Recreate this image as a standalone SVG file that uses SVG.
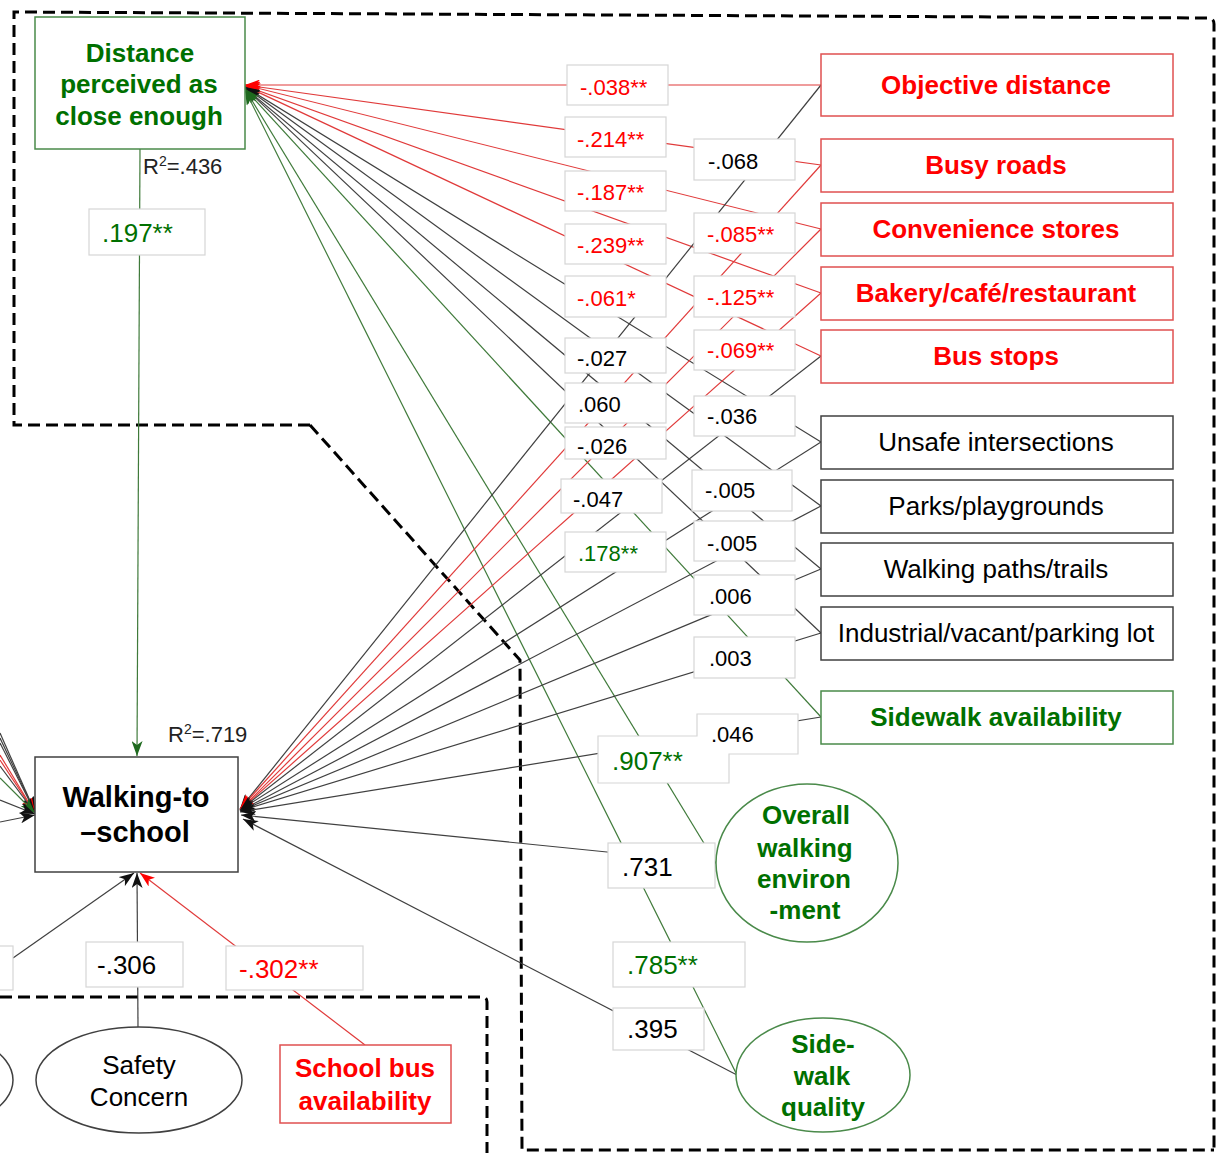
<svg xmlns="http://www.w3.org/2000/svg" width="1224" height="1153" viewBox="0 0 1224 1153">
<defs>
<style>
text{font-family:"Liberation Sans",Arial,sans-serif}
.lbl rect,.lbl path{fill:#fff;stroke:#d6d6d6;stroke-width:1.2}
.lbl text{font-size:22px}
.lbl text.big{font-size:26px}
.nr{fill:#fff;stroke:#e05050;stroke-width:1.5}
.nk{fill:#fff;stroke:#404040;stroke-width:1.5}
.ng{fill:#fff;stroke:#4a8a4a;stroke-width:1.5}
.tr{fill:#ff0000;font-weight:bold;font-size:26px;text-anchor:middle}
.tk{fill:#000;font-size:26px;text-anchor:middle}
.tg{fill:#007000;font-weight:bold;font-size:26px;text-anchor:middle}
.cr{fill:#ff0000}
.ck{fill:#000}
.cg{fill:#007000}
.lr{stroke:#e03a3a;stroke-width:1.2;fill:none}
.lk{stroke:#404040;stroke-width:1.2;fill:none}
.lg{stroke:#3f7a3a;stroke-width:1.2;fill:none}
.dash{stroke:#000;stroke-width:3;stroke-dasharray:12 6;fill:none}
.r2{font-size:22px;fill:#222}
</style>
<marker id="aR" viewBox="0 0 15 11" refX="15" refY="5.5" markerWidth="15" markerHeight="11" markerUnits="userSpaceOnUse" orient="auto"><path d="M0,0 L15,5.5 L0,11 L4,5.5 z" fill="#ff0000"/></marker>
<marker id="aK" viewBox="0 0 15 11" refX="15" refY="5.5" markerWidth="15" markerHeight="11" markerUnits="userSpaceOnUse" orient="auto"><path d="M0,0 L15,5.5 L0,11 L4,5.5 z" fill="#111"/></marker>
<marker id="aG" viewBox="0 0 15 11" refX="15" refY="5.5" markerWidth="15" markerHeight="11" markerUnits="userSpaceOnUse" orient="auto"><path d="M0,0 L15,5.5 L0,11 L4,5.5 z" fill="#1f6a1f"/></marker>
</defs>
<rect width="1224" height="1153" fill="#fff"/>

<g id="boundaries">
<path class="dash" d="M310,425 L14,425 L14,12 L1208,18 Q1214,18 1214,24 L1214,1153"/>
<path class="dash" d="M310,425 L520,660 L522,1150 L1214,1150"/>
<path class="dash" d="M0,997 L482,997 Q487,997 487,1002 L487,1153"/>
</g>

<g id="connectors">
<line class="lr" x1="821" y1="85" x2="245" y2="85" marker-end="url(#aR)"/>
<line class="lr" x1="821" y1="165" x2="245" y2="85" marker-end="url(#aR)"/>
<line class="lr" x1="821" y1="229" x2="245" y2="85" marker-end="url(#aR)"/>
<line class="lr" x1="821" y1="293" x2="245" y2="86" marker-end="url(#aR)"/>
<line class="lr" x1="821" y1="356" x2="245" y2="86" marker-end="url(#aR)"/>
<line class="lk" x1="821" y1="442" x2="245" y2="87" marker-end="url(#aK)"/>
<line class="lk" x1="821" y1="506" x2="245" y2="87" marker-end="url(#aK)"/>
<line class="lk" x1="821" y1="569" x2="245" y2="88" marker-end="url(#aK)"/>
<line class="lk" x1="821" y1="633" x2="245" y2="88" marker-end="url(#aK)"/>
<line class="lg" x1="821" y1="717" x2="245" y2="89" marker-end="url(#aG)"/>
<line class="lg" x1="716" y1="863" x2="245" y2="89" marker-end="url(#aG)"/>
<line class="lg" x1="737" y1="1075" x2="245" y2="90" marker-end="url(#aG)"/>
<line class="lk" x1="821" y1="85" x2="240" y2="809" marker-end="url(#aK)"/>
<line class="lr" x1="821" y1="165" x2="240" y2="809" marker-end="url(#aR)"/>
<line class="lr" x1="821" y1="229" x2="240" y2="810" marker-end="url(#aR)"/>
<line class="lr" x1="821" y1="293" x2="240" y2="810" marker-end="url(#aR)"/>
<line class="lk" x1="821" y1="356" x2="240" y2="810" marker-end="url(#aK)"/>
<line class="lk" x1="821" y1="442" x2="240" y2="810" marker-end="url(#aK)"/>
<line class="lk" x1="821" y1="506" x2="240" y2="811" marker-end="url(#aK)"/>
<line class="lk" x1="821" y1="569" x2="240" y2="811" marker-end="url(#aK)"/>
<line class="lk" x1="821" y1="633" x2="240" y2="811" marker-end="url(#aK)"/>
<line class="lk" x1="821" y1="717" x2="240" y2="812" marker-end="url(#aK)"/>
<line class="lk" x1="716" y1="863" x2="241" y2="815" marker-end="url(#aK)"/>
<line class="lk" x1="737" y1="1075" x2="243" y2="819" marker-end="url(#aK)"/>
<line class="lk" x1="0" y1="733" x2="35" y2="812" marker-end="url(#aK)"/>
<line class="lk" x1="0" y1="738" x2="35" y2="812" marker-end="url(#aK)"/>
<line class="lk" x1="0" y1="743" x2="35" y2="812" marker-end="url(#aK)"/>
<line class="lr" x1="0" y1="755" x2="35" y2="813" marker-end="url(#aR)"/>
<line class="lr" x1="0" y1="760" x2="35" y2="813" marker-end="url(#aR)"/>
<line class="lk" x1="0" y1="766" x2="35" y2="813" marker-end="url(#aK)"/>
<line class="lg" x1="0" y1="778" x2="35" y2="813" marker-end="url(#aG)"/>
<line class="lk" x1="0" y1="800" x2="35" y2="814" marker-end="url(#aK)"/>
<line class="lk" x1="0" y1="822" x2="35" y2="815" marker-end="url(#aK)"/>
<line class="lg" x1="140" y1="149" x2="137" y2="756" marker-end="url(#aG)"/>
<line class="lk" x1="13" y1="958" x2="134" y2="873" marker-end="url(#aK)"/>
<line class="lk" x1="138" y1="1027" x2="137" y2="873" marker-end="url(#aK)"/>
<line class="lr" x1="365" y1="1045" x2="140" y2="873" marker-end="url(#aR)"/>
</g>

<g id="labels">
<g class="lbl"><rect x="567" y="65" width="101" height="40"/><text class="cr" x="580" y="95">-.038**</text></g>
<g class="lbl"><rect x="565" y="117" width="101" height="40"/><text class="cr" x="577" y="147">-.214**</text></g>
<g class="lbl"><rect x="565" y="171" width="101" height="40"/><text class="cr" x="577" y="200">-.187**</text></g>
<g class="lbl"><rect x="565" y="224" width="101" height="40"/><text class="cr" x="577" y="253">-.239**</text></g>
<g class="lbl"><rect x="565" y="276" width="101" height="41"/><text class="cr" x="577" y="306">-.061*</text></g>
<g class="lbl"><rect x="565" y="338" width="101" height="35"/><text class="ck" x="577" y="366">-.027</text></g>
<g class="lbl"><rect x="565" y="383" width="101" height="40"/><text class="ck" x="578" y="412">.060</text></g>
<g class="lbl"><rect x="565" y="427" width="101" height="32"/><text class="ck" x="577" y="454">-.026</text></g>
<g class="lbl"><rect x="561" y="479" width="101" height="34"/><text class="ck" x="573" y="507">-.047</text></g>
<g class="lbl"><rect x="565" y="532" width="101" height="40"/><text class="cg" x="578" y="561">.178**</text></g>
<g class="lbl"><rect x="694" y="139" width="101" height="41"/><text class="ck" x="708" y="169">-.068</text></g>
<g class="lbl"><rect x="694" y="213" width="101" height="40"/><text class="cr" x="707" y="242">-.085**</text></g>
<g class="lbl"><rect x="694" y="276" width="101" height="41"/><text class="cr" x="707" y="305">-.125**</text></g>
<g class="lbl"><rect x="694" y="330" width="101" height="40"/><text class="cr" x="707" y="358">-.069**</text></g>
<g class="lbl"><rect x="694" y="396" width="101" height="40"/><text class="ck" x="707" y="424">-.036</text></g>
<g class="lbl"><rect x="692" y="470" width="100" height="41"/><text class="ck" x="705" y="498">-.005</text></g>
<g class="lbl"><rect x="694" y="521" width="101" height="40"/><text class="ck" x="707" y="551">-.005</text></g>
<g class="lbl"><rect x="694" y="575" width="101" height="40"/><text class="ck" x="709" y="604">.006</text></g>
<g class="lbl"><rect x="694" y="637" width="101" height="41"/><text class="ck" x="709" y="666">.003</text></g>
<g class="lbl"><path d="M598,736 L697,736 L697,714 L798,714 L798,754 L729,754 L729,783 L598,783 Z"/><text class="ck" x="711" y="742">.046</text><text class="cg big" x="612" y="770">.907**</text></g>
<g class="lbl"><rect x="608" y="843" width="107" height="45"/><text class="ck big" x="622" y="876">.731</text></g>
<g class="lbl"><rect x="613" y="942" width="132" height="45"/><text class="cg big" x="627" y="974">.785**</text></g>
<g class="lbl"><rect x="613" y="1008" width="91" height="42"/><text class="ck big" x="627" y="1038">.395</text></g>
<g class="lbl"><rect x="89" y="209" width="116" height="46"/><text class="cg big" x="102" y="242">.197**</text></g>
<g class="lbl"><rect x="86" y="942" width="97" height="45"/><text class="ck big" x="97" y="974">-.306</text></g>
<g class="lbl"><rect x="226" y="946" width="137" height="44"/><text class="cr big" x="239" y="978">-.302**</text></g>
<g class="lbl"><rect x="-60" y="946" width="73" height="44"/></g>
<text class="r2" x="143" y="174">R<tspan font-size="14" dy="-8">2</tspan><tspan dy="8">=.436</tspan></text>
<text class="r2" x="168" y="742">R<tspan font-size="14" dy="-8">2</tspan><tspan dy="8">=.719</tspan></text>
</g>

<g id="node-distance"><rect class="ng" x="35" y="17" width="210" height="132"/>
<text class="tg" x="140" y="62">Distance</text><text class="tg" x="139" y="93">perceived as</text><text class="tg" x="139" y="125">close enough</text></g>
<g id="node-walking"><rect class="nk" x="35" y="757" width="203" height="115"/>
<text font-size="29" font-weight="bold" text-anchor="middle" x="136" y="807">Walking-to</text><text font-size="29" font-weight="bold" text-anchor="middle" x="135" y="842">–school</text></g>

<g id="node-objective"><rect class="nr" x="821" y="54" width="352" height="62"/><text class="tr" x="996" y="94">Objective distance</text></g>
<g id="node-busy"><rect class="nr" x="821" y="139" width="352" height="53"/><text class="tr" x="996" y="174">Busy roads</text></g>
<g id="node-convenience"><rect class="nr" x="821" y="203" width="352" height="53"/><text class="tr" x="996" y="238">Convenience stores</text></g>
<g id="node-bakery"><rect class="nr" x="821" y="267" width="352" height="53"/><text class="tr" x="996" y="302">Bakery/café/restaurant</text></g>
<g id="node-busstops"><rect class="nr" x="821" y="330" width="352" height="53"/><text class="tr" x="996" y="365">Bus stops</text></g>
<g id="node-unsafe"><rect class="nk" x="821" y="416" width="352" height="53"/><text class="tk" x="996" y="451">Unsafe intersections</text></g>
<g id="node-parks"><rect class="nk" x="821" y="480" width="352" height="53"/><text class="tk" x="996" y="515">Parks/playgrounds</text></g>
<g id="node-paths"><rect class="nk" x="821" y="543" width="352" height="53"/><text class="tk" x="996" y="578">Walking paths/trails</text></g>
<g id="node-industrial"><rect class="nk" x="821" y="607" width="352" height="53"/><text class="tk" x="996" y="642">Industrial/vacant/parking lot</text></g>
<g id="node-sidewalk-avail"><rect class="ng" x="821" y="691" width="352" height="53"/><text class="tg" x="996" y="726">Sidewalk availability</text></g>
<g id="node-overall"><ellipse class="ng" cx="807" cy="863" rx="91" ry="79"/>
<text class="tg" x="806" y="824">Overall</text><text class="tg" x="805" y="857">walking</text><text class="tg" x="804" y="888">environ</text><text class="tg" x="805" y="919">-ment</text></g>
<g id="node-sidewalk-quality"><ellipse class="ng" cx="823" cy="1075" rx="87" ry="57"/>
<text class="tg" x="823" y="1053">Side-</text><text class="tg" x="822" y="1085">walk</text><text class="tg" x="823" y="1116">quality</text></g>
<g id="node-safety"><ellipse class="nk" cx="139" cy="1080" rx="103" ry="53"/>
<text class="tk" x="139" y="1074">Safety</text><text class="tk" x="139" y="1106">Concern</text></g>
<g id="node-schoolbus"><rect class="nr" x="280" y="1045" width="171" height="78"/>
<text class="tr" x="365" y="1077">School bus</text><text class="tr" x="365" y="1110">availability</text></g>
<g id="node-left-partial"><ellipse class="nk" cx="-90" cy="1080" rx="103" ry="53"/></g>
</svg>
